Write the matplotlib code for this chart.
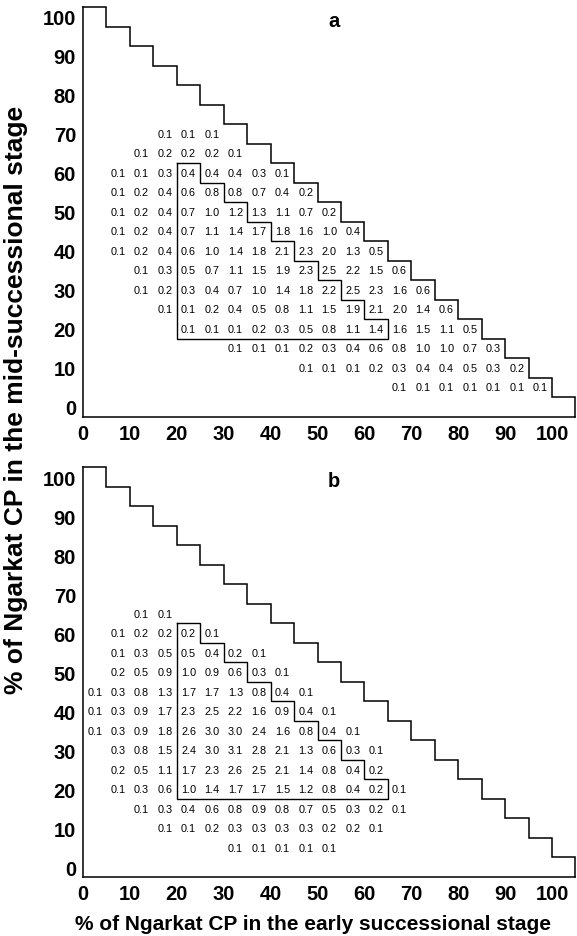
import matplotlib
matplotlib.use("Agg")
import matplotlib.pyplot as plt
import numpy as np

plt.rcParams['font.family'] = ['Liberation Sans', 'DejaVu Sans']

# ---------------- data ----------------
# panel a: rows (y = % mid-successional), first x of each row, values
a_rows_y = [70, 65, 60, 55, 50, 45, 40, 35, 30, 25, 20, 15, 10, 5]
a_rows_x0 = [15, 10, 5, 5, 5, 5, 5, 10, 10, 15, 20, 30, 45, 65]
a_vals = [
    [0.1, 0.1, 0.1],
    [0.1, 0.2, 0.2, 0.2, 0.1],
    [0.1, 0.1, 0.3, 0.4, 0.4, 0.4, 0.3, 0.1],
    [0.1, 0.2, 0.4, 0.6, 0.8, 0.8, 0.7, 0.4, 0.2],
    [0.1, 0.2, 0.4, 0.7, 1.0, 1.2, 1.3, 1.1, 0.7, 0.2],
    [0.1, 0.2, 0.4, 0.7, 1.1, 1.4, 1.7, 1.8, 1.6, 1.0, 0.4],
    [0.1, 0.2, 0.4, 0.6, 1.0, 1.4, 1.8, 2.1, 2.3, 2.0, 1.3, 0.5],
    [0.1, 0.3, 0.5, 0.7, 1.1, 1.5, 1.9, 2.3, 2.5, 2.2, 1.5, 0.6],
    [0.1, 0.2, 0.3, 0.4, 0.7, 1.0, 1.4, 1.8, 2.2, 2.5, 2.3, 1.6, 0.6],
    [0.1, 0.1, 0.2, 0.4, 0.5, 0.8, 1.1, 1.5, 1.9, 2.1, 2.0, 1.4, 0.6],
    [0.1, 0.1, 0.1, 0.2, 0.3, 0.5, 0.8, 1.1, 1.4, 1.6, 1.5, 1.1, 0.5],
    [0.1, 0.1, 0.1, 0.2, 0.3, 0.4, 0.6, 0.8, 1.0, 1.0, 0.7, 0.3],
    [0.1, 0.1, 0.1, 0.2, 0.3, 0.4, 0.4, 0.5, 0.3, 0.2],
    [0.1, 0.1, 0.1, 0.1, 0.1, 0.1, 0.1],
]

# panel b
b_rows_y = [65, 60, 55, 50, 45, 40, 35, 30, 25, 20, 15, 10, 5]
b_rows_x0 = [10, 5, 5, 5, 0, 0, 0, 5, 5, 5, 10, 15, 30]
b_vals = [
    [0.1, 0.1],
    [0.1, 0.2, 0.2, 0.2, 0.1],
    [0.1, 0.3, 0.5, 0.5, 0.4, 0.2, 0.1],
    [0.2, 0.5, 0.9, 1.0, 0.9, 0.6, 0.3, 0.1],
    [0.1, 0.3, 0.8, 1.3, 1.7, 1.7, 1.3, 0.8, 0.4, 0.1],
    [0.1, 0.3, 0.9, 1.7, 2.3, 2.5, 2.2, 1.6, 0.9, 0.4, 0.1],
    [0.1, 0.3, 0.9, 1.8, 2.6, 3.0, 3.0, 2.4, 1.6, 0.8, 0.4, 0.1],
    [0.3, 0.8, 1.5, 2.4, 3.0, 3.1, 2.8, 2.1, 1.3, 0.6, 0.3, 0.1],
    [0.2, 0.5, 1.1, 1.7, 2.3, 2.6, 2.5, 2.1, 1.4, 0.8, 0.4, 0.2],
    [0.1, 0.3, 0.6, 1.0, 1.4, 1.7, 1.7, 1.5, 1.2, 0.8, 0.4, 0.2, 0.1],
    [0.1, 0.3, 0.4, 0.6, 0.8, 0.9, 0.8, 0.7, 0.5, 0.3, 0.2, 0.1],
    [0.1, 0.1, 0.2, 0.3, 0.3, 0.3, 0.3, 0.2, 0.2, 0.1],
    [0.1, 0.1, 0.1, 0.1, 0.1],
]

# outlined region (same in both panels): rows and their last column
contour_rows_y = [60, 55, 50, 45, 40, 35, 30, 25, 20]
contour_left_x = 20
contour_right_x = [20, 25, 30, 35, 40, 45, 50, 55, 60]

ticks = [0, 10, 20, 30, 40, 50, 60, 70, 80, 90, 100]
step = 5
total = 100

xlabel = "% of Ngarkat CP in the early successional stage"
ylabel = "% of Ngarkat CP in the mid-successional stage"


def draw_panel(ax, rows_y, rows_x0, vals, letter):
    half = step / 2
    # values
    for y, x0, row in zip(rows_y, rows_x0, vals):
        for i, v in enumerate(row):
            x = x0 + i * step
            ax.text(x + half, y, f"{v:.1f}", ha='center', va='center',
                    fontsize=7.8, color='black')
    # staircase boundary x + y <= total
    xs, ys = [], []
    for x in range(0, total + step, step):
        top = total - x + half
        xs += [x, x + step]
        ys += [top, top]
    xs.append(total + step)
    ys.append(-half)
    ax.plot(xs, ys, color='black', lw=1.1, solid_joinstyle='miter', clip_on=False)
    # outlined region
    cx = [contour_left_x]
    cy = [contour_rows_y[0] + half]
    for y, xr in zip(contour_rows_y, contour_right_x):
        cx += [xr + step, xr + step]
        cy += [y + half, y - half]
    cx += [contour_left_x, contour_left_x]
    cy += [contour_rows_y[-1] - half, contour_rows_y[0] + half]
    ax.plot(cx, cy, color='black', lw=1.0, solid_joinstyle='miter')

    ax.set_xlim(0, total + step)
    ax.set_ylim(-half, total + half)
    ax.set_xticks(ticks)
    ax.set_yticks(ticks)
    ax.tick_params(length=0, labelsize=14.5, pad=5)
    for lab in ax.get_xticklabels() + ax.get_yticklabels():
        lab.set_fontweight('bold')
    ax.spines['top'].set_visible(False)
    ax.spines['right'].set_visible(False)
    for s in ('left', 'bottom'):
        ax.spines[s].set_linewidth(1.1)
    ax.text(53.5, 99, letter, ha='center', va='center', fontsize=14.5,
            fontweight='bold')


fig = plt.figure(figsize=(5.77, 9.37), dpi=100)
ax_a = fig.add_axes([0.1438, 0.5542, 0.8536, 0.4370])
ax_b = fig.add_axes([0.1438, 0.0632, 0.8536, 0.4370])

draw_panel(ax_a, a_rows_y, a_rows_x0, a_vals, 'a')
draw_panel(ax_b, b_rows_y, b_rows_x0, b_vals, 'b')

fig.text(313 / 577, 0.013, xlabel, ha='center', va='center',
         fontsize=15, fontweight='bold')
fig.text(0.027, 0.573, ylabel, rotation=90, ha='center', va='center',
         fontsize=19, fontweight='bold')

fig.savefig("out.png", dpi=100)
